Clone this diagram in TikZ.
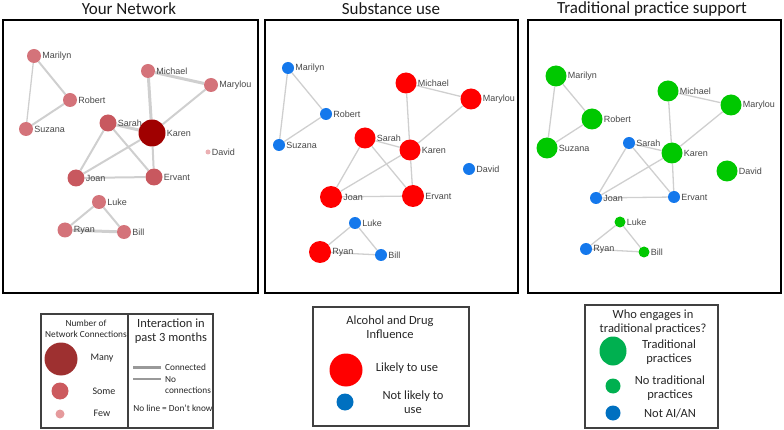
\documentclass[tikz,border=0pt]{standalone}
\usepackage{fontspec}
\setmainfont{Carlito}
\newfontfamily\labfont{Liberation Sans}
\usetikzlibrary{backgrounds,shapes.geometric}
\definecolor{netc}{HTML}{D4737A}
\definecolor{netd}{HTML}{C8585F}
\definecolor{netk}{HTML}{A00000}
\definecolor{netl}{HTML}{EBB0B3}
\definecolor{sred}{HTML}{FF0000}
\definecolor{sblue}{HTML}{1478EC}
\definecolor{tgreen}{HTML}{00C800}
\definecolor{edgec}{HTML}{CFCFCF}
\definecolor{lgred}{HTML}{9E3030}
\definecolor{lgmid}{HTML}{CC5A5E}
\definecolor{lglight}{HTML}{E59A9C}
\definecolor{lgblue}{HTML}{0070C0}
\definecolor{lggreen}{HTML}{00B050}
\definecolor{frameg}{HTML}{404040}
\newcommand\pnode[5]{\node[dot,fill=#4,minimum size=#5pt,label={[lab]0:#3}] (#1) at #2 {};}
\begin{document}
\begin{tikzpicture}[x=1pt,y=-1pt,
  dot/.style={circle,inner sep=0pt,draw=none},
  lab/.style={font=\labfont\fontsize{9}{10}\selectfont,text=black!72,inner sep=1pt},
  title/.style={font=\fontsize{17}{18}\selectfont,text=black!90},
  panel/.style={draw=black,line width=2.6pt},
  legbox/.style={draw=frameg,line width=1.4pt},
  legtext/.style={font=\fontsize{12.5}{14.5}\selectfont,text=black!85,align=center,inner sep=0pt},
  legsmall/.style={font=\fontsize{9.3}{11}\selectfont,text=black!85,align=center,inner sep=0pt},
  legmed/.style={font=\fontsize{10}{12}\selectfont,text=black!85,align=center,inner sep=0pt},
  ethin/.style={draw=edgec,line width=1.3pt},
  emid/.style={draw=edgec,line width=2pt},
  ethick/.style={draw=edgec,line width=3pt}]
\useasboundingbox (0,0) rectangle (784,430);

% titles
\node[title] (t1) at (129,9) {Your Network};
\node[title] (t2) at (391,9) {Substance use};
\node[title] (t3) at (652,9) {Traditional practice support};

% frames
\draw[panel] (3,20) rectangle (258,293);
\draw[panel] (265,20) rectangle (518,293);
\draw[panel] (528,20) rectangle (781,293);

% panel 1
\pnode{aMa}{(34,56)}{Marilyn}{netc}{14}
\pnode{aRo}{(70,100)}{Robert}{netc}{14}
\pnode{aSu}{(26,129)}{Suzana}{netc}{14}
\pnode{aMi}{(148,71)}{Michael}{netc}{14}
\pnode{aMl}{(211,85)}{Marylou}{netc}{14}
\pnode{aSa}{(108,123)}{Sarah}{netd}{17}
\pnode{aKa}{(152,133)}{Karen}{netk}{27}
\pnode{aDa}{(208,152)}{David}{netl}{5}
\pnode{aJo}{(76,178)}{Joan}{netd}{17}
\pnode{aEr}{(154,177)}{Ervant}{netd}{17}
\pnode{aLu}{(99,202)}{Luke}{netc}{14}
\pnode{aRy}{(65,230)}{Ryan}{netc}{15}
\pnode{aBi}{(124,232)}{Bill}{netc}{14}

% panel 2
\pnode{bMa}{(288,68)}{Marilyn}{sblue}{12}
\pnode{bRo}{(326,114)}{Robert}{sblue}{12}
\pnode{bSu}{(279,145)}{Suzana}{sblue}{12}
\pnode{bMi}{(406,83)}{Michael}{sred}{21}
\pnode{bMl}{(471,99)}{Marylou}{sred}{21}
\pnode{bSa}{(365,138)}{Sarah}{sred}{21}
\pnode{bKa}{(410,150)}{Karen}{sred}{21}
\pnode{bDa}{(469,169)}{David}{sblue}{12}
\pnode{bJo}{(331,197)}{Joan}{sred}{22}
\pnode{bEr}{(413,196)}{Ervant}{sred}{22}
\pnode{bLu}{(355,223)}{Luke}{sblue}{12}
\pnode{bRy}{(320,252)}{Ryan}{sred}{22}
\pnode{bBi}{(381,255)}{Bill}{sblue}{12}

% panel 3
\pnode{cMa}{(556,76)}{Marilyn}{tgreen}{21}
\pnode{cRo}{(592,119)}{Robert}{tgreen}{21}
\pnode{cSu}{(547,148)}{Suzana}{tgreen}{21}
\pnode{cMi}{(668,91)}{Michael}{tgreen}{21}
\pnode{cMl}{(731,105)}{Marylou}{tgreen}{21}
\pnode{cSa}{(629,143)}{Sarah}{sblue}{12}
\pnode{cKa}{(672,153)}{Karen}{tgreen}{21}
\pnode{cDa}{(727,171)}{David}{tgreen}{21}
\pnode{cJo}{(596,198)}{Joan}{sblue}{12}
\pnode{cEr}{(674,197)}{Ervant}{sblue}{12}
\pnode{cLu}{(620,222)}{Luke}{tgreen}{11}
\pnode{cRy}{(586,249)}{Ryan}{sblue}{12}
\pnode{cBi}{(644,252)}{Bill}{tgreen}{11}

\begin{scope}[on background layer]
  % panel 1 edges
  \draw[emid] (aMa) -- (aRo);
  \draw[ethin] (aMa) -- (aSu);
  \draw[emid] (aRo) -- (aSu);
  \draw[ethick] (aMi) -- (aKa);
  \draw[ethick] (aMi) -- (aMl);
  \draw[emid] (aMl) -- (aKa);
  \draw[ethick] (aSa) -- (aKa);
  \draw[emid] (aSa) -- (aJo);
  \draw[emid] (aSa) -- (aEr);
  \draw[emid] (aKa) -- (aJo);
  \draw[emid] (aKa) -- (aEr);
  \draw[emid] (aJo) -- (aEr);
  \draw[emid] (aLu) -- (aRy);
  \draw[emid] (aLu) -- (aBi);
  \draw[ethick] (aRy) -- (aBi);
  % panel 2 and 3 edges
  \foreach \p in {b,c}{
    \draw[ethin] (\p Ma) -- (\p Ro);
    \draw[ethin] (\p Ma) -- (\p Su);
    \draw[ethin] (\p Ro) -- (\p Su);
    \draw[ethin] (\p Mi) -- (\p Ka);
    \draw[ethin] (\p Mi) -- (\p Ml);
    \draw[ethin] (\p Ml) -- (\p Ka);
    \draw[ethin] (\p Sa) -- (\p Ka);
    \draw[ethin] (\p Sa) -- (\p Jo);
    \draw[ethin] (\p Sa) -- (\p Er);
    \draw[ethin] (\p Ka) -- (\p Jo);
    \draw[ethin] (\p Ka) -- (\p Er);
    \draw[ethin] (\p Jo) -- (\p Er);
    \draw[ethin] (\p Lu) -- (\p Ry);
    \draw[ethin] (\p Lu) -- (\p Bi);
    \draw[ethin] (\p Ry) -- (\p Bi);
  }
\end{scope}

% legend 1
\draw[legbox] (41,314) rectangle (213,428);
\draw[legbox] (128,314) -- (128,428);
\node[legsmall] (l1h) at (86,329) {Number of\\Network Connections};
\node[dot,fill=lgred,minimum size=33pt] (l1a) at (61,359) {};
\node[legmed] (l1at) at (102,358) {Many};
\node[dot,fill=lgmid,minimum size=17pt] (l1b) at (60,391) {};
\node[legmed] (l1bt) at (104,391) {Some};
\node[dot,fill=lglight,minimum size=9pt] (l1c) at (60,414) {};
\node[legmed] (l1ct) at (102,413) {Few};
\node[legtext] (l2h) at (171,331) {Interaction in\\past 3 months};
\coordinate (ca) at (133,367); \coordinate (cb) at (161,367);
\draw[draw=black!40,line width=3pt] (ca) -- (cb);
\node[legsmall,anchor=west] (l2a) at (165,367) {Connected};
\coordinate (cc) at (133,379); \coordinate (cd) at (161,379);
\draw[draw=black!40,line width=1.3pt] (cc) -- (cd);
\node[legsmall,anchor=west,align=left] (l2b) at (165,385) {No\\connections};
\node[legsmall] (l2c) at (173,408) {No line = Don't know};

% legend 2
\draw[legbox] (313,307) rectangle (469,426);
\node[legtext] (l3h) at (390,327) {Alcohol and Drug\\Influence};
\node[dot,fill=sred,minimum size=33pt] (l3a) at (346,370) {};
\node[legtext] (l3at) at (407,368) {Likely to use};
\node[dot,fill=lgblue,minimum size=17pt] (l3b) at (345,402) {};
\node[legtext] (l3bt) at (413,402) {Not likely to\\use};

% legend 3
\draw[legbox] (585,305) rectangle (718,428);
\node[legtext] (l4h) at (653,322) {Who engages in\\traditional practices?};
\node[ellipse,inner sep=0pt,draw=none,fill=lggreen,minimum width=27pt,minimum height=29pt] (l4a) at (613,351) {};
\node[legtext] (l4at) at (669,352) {Traditional\\practices};
\node[dot,fill=lggreen,minimum size=15pt] (l4b) at (613,386) {};
\node[legtext] (l4bt) at (670,388) {No traditional\\practices};
\node[dot,fill=lgblue,minimum size=15pt] (l4c) at (613,413) {};
\node[legtext] (l4ct) at (670,413) {Not AI/AN};
\end{tikzpicture}
\end{document}
